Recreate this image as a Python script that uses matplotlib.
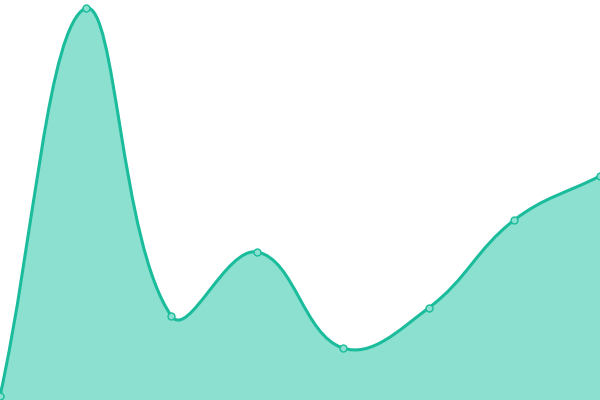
import numpy as np
import matplotlib.pyplot as plt
from matplotlib.path import Path
from matplotlib.patches import PathPatch

# values
labels = ["A", "B", "C", "D", "E", "F", "G", "H"]
values = [1, 98, 21, 37, 13, 23, 45, 56]

line_color = "#1abc9c"
fill_color = "#8be0d0"

W, H = 600, 400
ymax = 100
tension = 0.4

fig = plt.figure(figsize=(6, 4), dpi=100)
ax = fig.add_axes([0, 0, 1, 1])
ax.set_xlim(0, len(values) - 1)
ax.set_ylim(0, ymax)
ax.axis("off")

# spline control points (computed in pixel space, like chart.js)
xs = np.arange(len(values), dtype=float)
px = xs * W / (len(values) - 1)
py = np.array(values, dtype=float) * H / ymax
n = len(values)
prev_c = []
next_c = []
for i in range(n):
    p0 = np.array([px[max(i - 1, 0)], py[max(i - 1, 0)]])
    p1 = np.array([px[i], py[i]])
    p2 = np.array([px[min(i + 1, n - 1)], py[min(i + 1, n - 1)]])
    d01 = np.hypot(*(p1 - p0))
    d12 = np.hypot(*(p2 - p1))
    tot = d01 + d12
    s01 = d01 / tot if tot else 0
    s12 = d12 / tot if tot else 0
    pc = p1 - tension * s01 * (p2 - p0)
    nc = p1 + tension * s12 * (p2 - p0)
    pc = np.clip(pc, [0, 0], [W, H])
    nc = np.clip(nc, [0, 0], [W, H])
    prev_c.append(pc)
    next_c.append(nc)

def to_data(p):
    return (p[0] * (n - 1) / W, p[1] * ymax / H)

verts = [(xs[0], values[0])]
codes = [Path.MOVETO]
for i in range(n - 1):
    verts += [to_data(next_c[i]), to_data(prev_c[i + 1]), (xs[i + 1], values[i + 1])]
    codes += [Path.CURVE4] * 3
line_path = Path(verts, codes)

fill_verts = verts + [(xs[-1], 0), (xs[0], 0), (xs[0], values[0])]
fill_codes = codes + [Path.LINETO, Path.LINETO, Path.CLOSEPOLY]
ax.add_patch(PathPatch(Path(fill_verts, fill_codes), facecolor=fill_color,
                       edgecolor="none", zorder=1))
ax.add_patch(PathPatch(line_path, facecolor="none", edgecolor=line_color,
                       linewidth=2.2, zorder=2, capstyle="round", joinstyle="round"))

ax.plot(xs, values, "o", markersize=5, markerfacecolor=fill_color,
        markeredgecolor=line_color, markeredgewidth=1, zorder=3)

fig.savefig("out.png", dpi=100)
